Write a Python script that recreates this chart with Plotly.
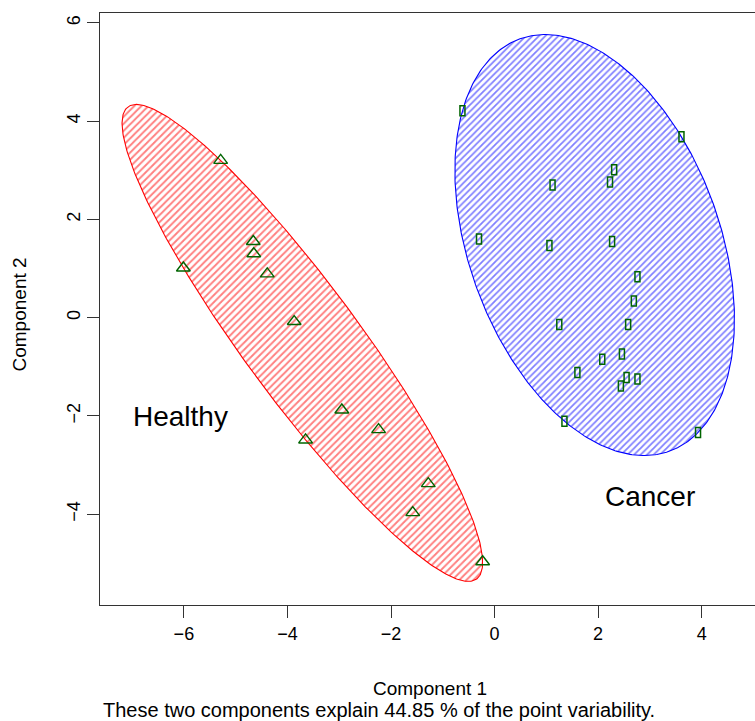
import numpy as np
import plotly.graph_objects as go

# Principal component scores of the two groups
healthy_pc1 = [-5.29, -4.66, -4.65, -4.39, -6.01, -3.87, -2.95, -3.65, -2.24, -1.28, -1.58, -0.23]
healthy_pc2 = [3.20, 1.55, 1.30, 0.89, 1.01, -0.08, -1.88, -2.49, -2.28, -3.38, -3.97, -4.97]

cancer_pc1 = [-0.62, 3.61, 2.31, 2.23, 1.12, -0.30, 1.06, 2.27, 2.76, 2.69,
              1.25, 2.58, 2.46, 2.08, 1.60, 2.55, 2.76, 2.44, 1.35, 3.93]
cancer_pc2 = [4.21, 3.68, 3.01, 2.76, 2.70, 1.60, 1.47, 1.55, 0.83, 0.34,
              -0.14, -0.14, -0.74, -0.85, -1.12, -1.22, -1.25, -1.39, -2.11, -2.34]

x_ticks = [-6, -4, -2, 0, 2, 4]
y_ticks = [-4, -2, 0, 2, 4, 6]
explained = 44.85

FONT = "Liberation Sans, Arial, Helvetica, sans-serif"
DARKGREEN = "#006400"


def spanning_ellipse(xs, ys, tol=1e-9, n=400):
    """Smallest ellipse containing all points (Khachiyan's algorithm)."""
    P = np.column_stack([xs, ys]).astype(float)
    N, d = P.shape
    Q = np.vstack([P.T, np.ones(N)])
    u = np.ones(N) / N
    for _ in range(200000):
        X = Q @ np.diag(u) @ Q.T
        M = np.einsum("ij,ji->i", Q.T @ np.linalg.inv(X), Q)
        j = int(np.argmax(M))
        step = (M[j] - d - 1) / ((d + 1) * (M[j] - 1))
        new_u = (1 - step) * u
        new_u[j] += step
        if np.linalg.norm(new_u - u) < tol:
            u = new_u
            break
        u = new_u
    c = P.T @ u
    A = np.linalg.inv(P.T @ np.diag(u) @ P - np.outer(c, c)) / d
    vals, vecs = np.linalg.eigh(A)
    t = np.linspace(0, 2 * np.pi, n)
    circ = np.vstack([np.cos(t), np.sin(t)])
    pts = c[:, None] + vecs @ np.diag(1 / np.sqrt(vals)) @ circ
    return pts[0], pts[1]


fig = go.Figure()

for xs, ys, col, size in [(healthy_pc1, healthy_pc2, "red", 5),
                          (cancer_pc1, cancer_pc2, "blue", 4.6)]:
    ex, ey = spanning_ellipse(xs, ys)
    fig.add_trace(go.Scatter(
        x=ex, y=ey, mode="lines", fill="toself",
        line=dict(color=col, width=1.1),
        fillcolor="rgba(0,0,0,0)",
        fillpattern=dict(shape="/", fgcolor=col, bgcolor="white",
                         size=size, solidity=0.38),
        hoverinfo="skip", showlegend=False,
    ))

fig.add_trace(go.Scatter(
    x=healthy_pc1, y=healthy_pc2, mode="markers",
    marker=dict(symbol="triangle-up-open", size=12, color=DARKGREEN,
                line=dict(width=1.4, color=DARKGREEN)),
    name="Healthy", showlegend=False,
))

# Cancer observations: narrow open rectangles anchored on each score
shapes = []
for x, y in zip(cancer_pc1, cancer_pc2):
    shapes.append(dict(
        type="rect", xref="x", yref="y",
        xsizemode="pixel", ysizemode="pixel",
        xanchor=x, yanchor=y, x0=-2.5, x1=2.5, y0=-5, y1=5,
        line=dict(color=DARKGREEN, width=1.5),
        fillcolor="rgba(0,0,0,0)", layer="above",
    ))
fig.add_trace(go.Scatter(
    x=cancer_pc1, y=cancer_pc2, mode="markers",
    marker=dict(size=6, opacity=0), name="Cancer", showlegend=False,
))

annotations = [
    dict(text="Healthy", x=-6.07, y=-2.02, xref="x", yref="y",
         showarrow=False, font=dict(size=28, color="black", family=FONT)),
    dict(text="Cancer", x=3.0, y=-3.64, xref="x", yref="y",
         showarrow=False, font=dict(size=28, color="black", family=FONT)),
    dict(text="Component 1", x=0.504, y=0, xref="paper", yref="paper",
         yanchor="middle", yshift=-83, showarrow=False,
         font=dict(size=19, color="black", family=FONT)),
    dict(text=f"These two components explain {explained} % of the point variability.",
         x=0.0, y=0, xref="paper", yref="paper", xanchor="left",
         yanchor="middle", yshift=-105, xshift=1, showarrow=False,
         font=dict(size=20, color="black", family=FONT)),
    dict(text="Component 2", x=0, y=0.5, xref="paper", yref="paper",
         xanchor="center", yanchor="middle", xshift=-81.5, yshift=-6, textangle=-90,
         showarrow=False, font=dict(size=19, color="black", family=FONT)),
]

fig.update_layout(
    width=755, height=721,
    margin=dict(l=99.5, r=0, t=13, b=116),
    paper_bgcolor="white", plot_bgcolor="white",
    shapes=shapes, annotations=annotations,
    font=dict(family=FONT, color="black"),
)
fig.update_xaxes(
    range=[-7.62, 5.03], tickvals=x_ticks, ticktext=[f"{v:g}".replace("-", "\u2212") for v in x_ticks],
    showgrid=False, zeroline=False, showline=True, mirror=True,
    linecolor="#333333", linewidth=1.2, ticks="outside", ticklen=12,
    tickcolor="#333333", tickwidth=1.2, tickfont=dict(size=18, family=FONT, color="black"),
)
fig.update_yaxes(
    range=[-5.85, 6.20], tickvals=y_ticks, ticktext=[f"{v:g}".replace("-", "\u2212") for v in y_ticks],
    showgrid=False, zeroline=False, showline=True, mirror=False,
    linecolor="#333333", linewidth=1.2, ticks="outside", ticklen=12,
    tickcolor="#333333", tickwidth=1.2, tickangle=-90,
    tickfont=dict(size=18, family=FONT, color="black"),
)

fig.write_html("out.html")
